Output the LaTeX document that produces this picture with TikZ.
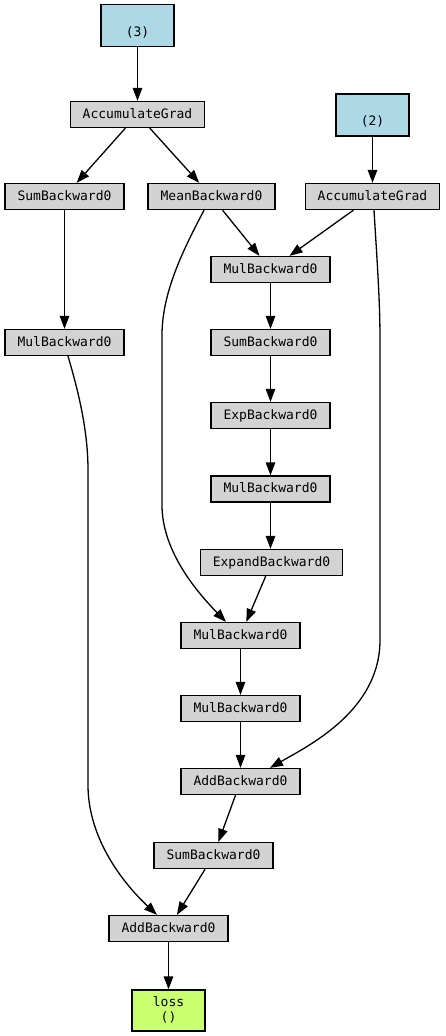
\documentclass[tikz,border=0pt]{standalone}
\usepackage{fontspec}
\newfontfamily\monofam{DejaVu Sans Mono}
\usetikzlibrary{arrows.meta}
\definecolor{gvgray}{HTML}{D3D3D3}
\definecolor{gvblue}{HTML}{ADD8E6}
\definecolor{gvgreen}{HTML}{CAFF70}
\tikzset{
  gvtext/.style={font=\monofam\fontsize{13}{15}\selectfont},
  opbox/.style={gvtext, draw=black, line width=1.3pt, fill=gvgray, rectangle,
    inner xsep=12.5pt, inner ysep=0pt, minimum height=26pt,
    text height=10pt, text depth=3pt},
  parbox/.style={gvtext, draw=black, line width=1.3pt, fill=gvblue, rectangle,
    align=center, inner sep=0pt, minimum width=73pt, minimum height=42pt},
  lossbox/.style={parbox, fill=gvgreen, minimum height=41pt},
  edge/.style={line width=1.3pt, -{Triangle[length=13pt, width=9.5pt]}},
}
\begin{document}
\begin{tikzpicture}[x=1pt, y=-1pt]
\useasboundingbox (0,0) rectangle (445,1036);
\node[parbox] (p3) at (137.5,25.5) {\strut\\\strut(3)};
\node[opbox] (ag1) at (137.5,114.5) {AccumulateGrad};
\node[parbox] (p2) at (372.5,115) {\strut\\\strut(2)};
\node[opbox] (ag2) at (372.5,196.5) {AccumulateGrad};
\node[opbox] (sum1) at (64.5,196.5) {SumBackward0};
\node[opbox] (mean) at (211.5,196.5) {MeanBackward0};
\node[opbox] (mulA) at (270.5,269.5) {MulBackward0};
\node[opbox] (mul1) at (64.5,342.5) {MulBackward0};
\node[opbox] (sumB) at (270.5,342.5) {SumBackward0};
\node[opbox] (expb) at (270.5,415.5) {ExpBackward0};
\node[opbox] (mulC) at (270.5,489) {MulBackward0};
\node[opbox] (expand) at (271.5,562.5) {ExpandBackward0};
\node[opbox] (mulD) at (240.5,635.5) {MulBackward0};
\node[opbox] (mulE) at (240.5,708.5) {MulBackward0};
\node[opbox] (addF) at (240.5,781.5) {AddBackward0};
\node[opbox] (sumG) at (213.5,855.5) {SumBackward0};
\node[opbox] (addH) at (168.5,928.5) {AddBackward0};
\node[lossbox] (loss) at (168.5,1010.5) {\strut loss\\\strut()};

\draw[edge] (p3) -- (ag1);
\draw[edge] (ag1) -- (sum1);
\draw[edge] (ag1) -- (mean);
\draw[edge] (p2) -- (ag2);
\draw[edge] (mean) -- (mulA);
\draw[edge] (ag2) -- (mulA);
\draw[edge] (sum1) -- (mul1);
\draw[edge] (mulA) -- (sumB);
\draw[edge] (sumB) -- (expb);
\draw[edge] (expb) -- (mulC);
\draw[edge] (mulC.south) -- (mulC.south |- expand.north);
\draw[edge] (expand) -- (mulD);
\draw[edge] (mulD) -- (mulE);
\draw[edge] (mulE) -- (addF);
\draw[edge] (addF) -- (sumG);
\draw[edge] (sumG) -- (addH);
\draw[edge] (addH) -- (loss);
\draw[edge] ([xshift=-7.5pt]mean.south) .. controls (186,245) and (162,290) .. (162,335)
  -- (162,505) .. controls (162,550) and (195,590) .. ([xshift=-14.5pt]mulD.north);
\draw[edge] ([xshift=3.5pt]mul1.south) .. controls (78,390) and (88,430) .. (88,470)
  -- (88,785) .. controls (88,840) and (125,885) .. ([xshift=-11.5pt]addH.north);
\draw[edge] ([xshift=1.5pt]ag2.south) .. controls (377,260) and (380,300) .. (380,340)
  -- (380,640) .. controls (380,710) and (310,745) .. ([xshift=29.5pt]addF.north);
\end{tikzpicture}
\end{document}
